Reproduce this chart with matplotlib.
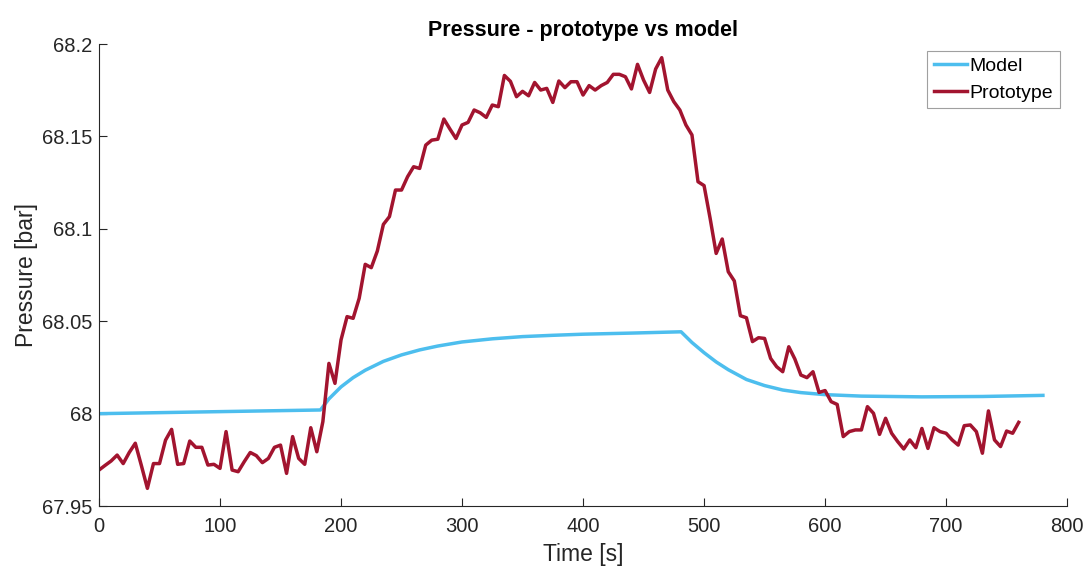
import matplotlib
matplotlib.use("Agg")
import matplotlib.pyplot as plt
from matplotlib.ticker import FuncFormatter

plt.rcParams['font.family'] = ['Liberation Sans', 'DejaVu Sans']

# Model curve (time [s], pressure [bar])
model_t = [0, 90, 183, 190, 200, 210, 220, 235, 250, 265, 280, 300, 325, 350,
           375, 400, 440, 481, 490, 500, 510, 520, 535, 550, 565, 580, 600,
           630, 680, 730, 780]
model_p = [68.000, 68.001, 68.002, 68.008, 68.0145, 68.0195, 68.0235, 68.0283,
           68.0318, 68.0345, 68.0366, 68.0388, 68.0405, 68.0417, 68.0424,
           68.0430, 68.0436, 68.0443, 68.0385, 68.0330, 68.0280, 68.0238,
           68.0185, 68.0152, 68.0128, 68.0114, 68.0103, 68.0095, 68.0091,
           68.0093, 68.0099]

# Prototype measurements, sampled every 5 s from 0 to 760 s
proto_t = list(range(0, 765, 5))
proto_p = [
    67.9695, 67.9720, 67.9744, 67.9776, 67.9730, 67.9790, 67.9840, 67.9720,
    67.9596, 67.9730, 67.9730, 67.9857, 67.9915, 67.9726, 67.9730, 67.9852,
    67.9818, 67.9818, 67.9722, 67.9726, 67.9704, 67.9903, 67.9695, 67.9686,
    67.9740, 67.9790, 67.9773, 67.9735, 67.9758, 67.9818, 67.9830, 67.9677,
    67.9876, 67.9758, 67.9726, 67.9924, 67.9794, 67.9957, 68.0272, 68.0164,
    68.0399, 68.0525, 68.0516, 68.0624, 68.0808, 68.0790, 68.0880, 68.1024,
    68.1066, 68.1210, 68.1210, 68.1282, 68.1336, 68.1327, 68.1453, 68.1480,
    68.1485, 68.1594, 68.1540, 68.1489, 68.1562, 68.1576, 68.1643, 68.1628,
    68.1603, 68.1670, 68.1661, 68.1830, 68.1798, 68.1715, 68.1744, 68.1720,
    68.1792, 68.1751, 68.1760, 68.1684, 68.1800, 68.1764, 68.1796, 68.1796,
    68.1724, 68.1775, 68.1751, 68.1775, 68.1792, 68.1836, 68.1836, 68.1823,
    68.1757, 68.1890, 68.1805, 68.1738, 68.1865, 68.1926, 68.1751, 68.1688,
    68.1643, 68.1562, 68.1508, 68.1255, 68.1234, 68.1057, 68.0867, 68.0945,
    68.0768, 68.0718, 68.0530, 68.0519, 68.0390, 68.0411, 68.0407, 68.0299,
    68.0254, 68.0227, 68.0362, 68.0296, 68.0209, 68.0195, 68.0227, 68.0115,
    68.0125, 68.0065, 68.0050, 67.9876, 67.9903, 67.9912, 67.9912, 68.0038,
    68.0002, 67.9888, 67.9975, 67.9894, 67.9849, 67.9809, 67.9858, 67.9816,
    67.9920, 67.9812, 67.9924, 67.9903, 67.9894, 67.9858, 67.9830, 67.9935,
    67.9939, 67.9903, 67.9786, 68.0015, 67.9858, 67.9822, 67.9906, 67.9894,
    67.9953,
]

x_ticks = [0, 100, 200, 300, 400, 500, 600, 700, 800]
y_ticks = [67.95, 68.0, 68.05, 68.1, 68.15, 68.2]

axis_col = '#262626'

fig = plt.figure(figsize=(10.89, 5.68), dpi=100)
ax = fig.add_axes([0.0909, 0.109, 0.889, 0.8135])

ax.plot(model_t, model_p, color='#4DBEEE', lw=2.5, label='Model')
ax.plot(proto_t, proto_p, color='#A2142F', lw=2.5, label='Prototype')

ax.set_xlim(0, 800)
ax.set_ylim(67.95, 68.2)
ax.set_xticks(x_ticks)
ax.set_yticks(y_ticks)
ax.yaxis.set_major_formatter(FuncFormatter(lambda v, p: f"{v:g}"))

for side in ['top', 'right']:
    ax.spines[side].set_visible(False)
for side in ['left', 'bottom']:
    ax.spines[side].set_color(axis_col)
    ax.spines[side].set_linewidth(0.8)

ax.tick_params(direction='in', length=6, width=0.8, colors=axis_col,
               labelsize=14.5, labelcolor=axis_col)
ax.tick_params(axis='x', pad=8)
ax.tick_params(axis='y', pad=5)

ax.set_xlabel('Time [s]', fontsize=16.5, color=axis_col, labelpad=5)
ax.set_ylabel('Pressure [bar]', fontsize=16.5, color=axis_col, labelpad=3)
ax.set_title('Pressure - prototype vs model', fontsize=15.5,
             fontweight='bold', color='black', pad=6)

leg = ax.legend(loc='upper right', fontsize=14, frameon=True, fancybox=False,
                handlelength=1.7, handletextpad=0.15, borderpad=0.35,
                labelspacing=0.45, borderaxespad=0.35)
leg.get_frame().set_edgecolor('#888888')
leg.get_frame().set_linewidth(0.8)

fig.savefig('out.png', dpi=100, facecolor='white')
